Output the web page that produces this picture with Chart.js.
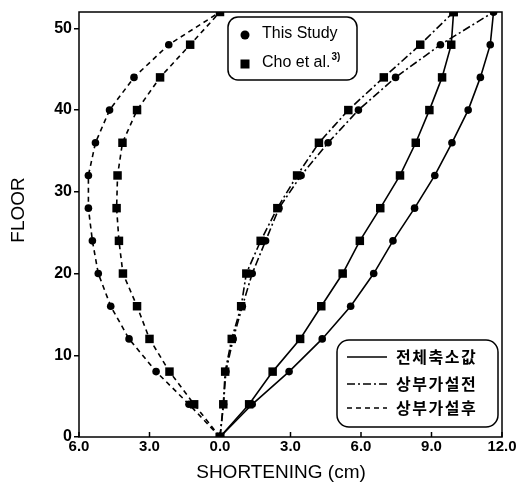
<!DOCTYPE html>
<html>
<head>
<meta charset="utf-8">
<script src="https://cdn.jsdelivr.net/npm/chart.js@4"></script>
<style>
html, body { margin: 0; padding: 0; background: #fff; }
</style>
</head>
<body>
<canvas id="chart" width="519" height="493"></canvas>
<script>
// floors where values are plotted
const floors = [0, 4, 8, 12, 16, 20, 24, 28, 32, 36, 40, 44, 48, 52];

// 전체축소값 (total)
const totalStudy = [0, 1.37, 2.94, 4.35, 5.56, 6.54, 7.36, 8.28, 9.14, 9.87, 10.56, 11.08, 11.5, 11.64];
const totalCho   = [0, 1.24, 2.24, 3.41, 4.31, 5.22, 5.95, 6.82, 7.66, 8.33, 8.91, 9.45, 9.84, 9.94];
// 상부가설전 (before)
const beforeStudy = [0, 0.15, 0.25, 0.56, 0.95, 1.37, 1.94, 2.51, 3.45, 4.6, 5.89, 7.47, 9.38, 11.64];
const beforeCho   = [0, 0.14, 0.22, 0.5, 0.9, 1.12, 1.73, 2.44, 3.28, 4.21, 5.46, 6.97, 8.52, 9.94];
// 상부가설후 (after)
const afterStudy = [0, -1.32, -2.72, -3.87, -4.65, -5.18, -5.43, -5.6, -5.6, -5.3, -4.7, -3.66, -2.18, 0];
const afterCho   = [0, -1.1, -2.15, -3.0, -3.53, -4.13, -4.3, -4.4, -4.36, -4.15, -3.53, -2.55, -1.27, 0];

const xTicks = [-6, -3, 0, 3, 6, 9, 12];
const yTicks = [0, 10, 20, 30, 40, 50];

const FONT = '"Liberation Sans", Arial, sans-serif';
const SOLID = [];
const DASHDOT = [8, 3, 2, 3];
const DASHED = [5, 4];

function pts(xs) {
    return xs.map((x, i) => ({ x: x, y: floors[i] }));
}

function series(xs, dash, shape) {
    return {
        data: pts(xs),
        borderColor: '#000',
        backgroundColor: '#000',
        borderWidth: 1.6,
        borderDash: dash,
        pointStyle: shape,
        pointRadius: shape === 'rect' ? 6 : 3.8,
        pointBorderWidth: 0,
        tension: 0
    };
}

// box, inward x ticks, legends, axis titles
const decor = {
    id: 'decor',
    afterDraw(chart) {
        const ctx = chart.ctx;
        const a = chart.chartArea;
        const xs = chart.scales.x;
        ctx.save();
        ctx.strokeStyle = '#000';
        ctx.lineWidth = 1.5;
        ctx.setLineDash([]);
        ctx.strokeRect(a.left, a.top, a.right - a.left, a.bottom - a.top);

        // ticks pointing up into the plot
        xTicks.forEach(v => {
            const px = xs.getPixelForValue(v);
            ctx.beginPath();
            ctx.moveTo(px, a.bottom);
            ctx.lineTo(px, a.bottom - 5);
            ctx.stroke();
        });

        // marker legend
        roundRect(ctx, 228, 17, 129, 63, 10);
        ctx.fillStyle = '#000';
        ctx.beginPath();
        ctx.arc(245, 35, 4.5, 0, Math.PI * 2);
        ctx.fill();
        ctx.fillRect(240.5, 59.5, 9, 9);
        ctx.font = '16px ' + FONT;
        ctx.textBaseline = 'middle';
        ctx.textAlign = 'left';
        ctx.fillText('This Study', 262, 34);
        ctx.fillText('Cho et al.', 262, 63);
        const w = ctx.measureText('Cho et al.').width;
        ctx.font = 'bold 10px ' + FONT;
        ctx.fillText('3)', 262 + w + 1, 57);

        // line legend
        roundRect(ctx, 337, 340, 161, 87, 12);
        ctx.fillStyle = '#000';
        const rows = [
            ['전체축소값', SOLID, 357],
            ['상부가설전', DASHDOT, 384],
            ['상부가설후', DASHED, 408]
        ];
        ctx.font = 'bold 16px "Noto Sans CJK KR", sans-serif';
        if ('letterSpacing' in ctx) ctx.letterSpacing = '1.5px';
        rows.forEach(r => {
            ctx.setLineDash(r[1]);
            ctx.beginPath();
            ctx.moveTo(347, r[2]);
            ctx.lineTo(387, r[2]);
            ctx.stroke();
            ctx.fillText(r[0], 396, r[2]);
        });
        if ('letterSpacing' in ctx) ctx.letterSpacing = '0px';
        ctx.setLineDash([]);

        // axis titles
        ctx.font = '19px ' + FONT;
        ctx.textAlign = 'center';
        ctx.fillText('SHORTENING (cm)', 281, 473);
        ctx.translate(19, 210);
        ctx.rotate(-Math.PI / 2);
        ctx.fillText('FLOOR', 0, 0);
        ctx.restore();
    }
};

function roundRect(ctx, x, y, w, h, r) {
    ctx.beginPath();
    ctx.moveTo(x + r, y);
    ctx.arcTo(x + w, y, x + w, y + h, r);
    ctx.arcTo(x + w, y + h, x, y + h, r);
    ctx.arcTo(x, y + h, x, y, r);
    ctx.arcTo(x, y, x + w, y, r);
    ctx.closePath();
    ctx.fillStyle = '#fff';
    ctx.fill();
    ctx.stroke();
}

new Chart(document.getElementById('chart'), {
    type: 'line',
    data: {
        datasets: [
            series(totalStudy, SOLID, 'circle'),
            series(totalCho, SOLID, 'rect'),
            series(beforeStudy, DASHDOT, 'circle'),
            series(beforeCho, DASHDOT, 'rect'),
            series(afterStudy, DASHED, 'circle'),
            series(afterCho, DASHED, 'rect')
        ]
    },
    options: {
        responsive: false,
        animation: false,
        devicePixelRatio: 1,
        layout: { padding: { top: 12, right: 17, left: 0, bottom: 0 } },
        plugins: {
            legend: { display: false },
            tooltip: { enabled: false }
        },
        scales: {
            x: {
                type: 'linear',
                min: -6,
                max: 12,
                afterBuildTicks: s => { s.ticks = xTicks.map(v => ({ value: v })); },
                afterFit: s => { s.height = 56; },
                grid: { display: false },
                border: { display: false },
                ticks: {
                    color: '#000',
                    padding: -7,
                    maxRotation: 0,
                    font: { family: FONT, size: 15, weight: 'bold' },
                    callback: v => Math.abs(v).toFixed(1)
                }
            },
            y: {
                type: 'linear',
                min: 0,
                max: 52,
                afterBuildTicks: s => { s.ticks = yTicks.map(v => ({ value: v })); },
                afterFit: s => { s.width = 79; },
                grid: { drawOnChartArea: false, drawTicks: true, tickLength: 5, color: '#000', lineWidth: 1.5 },
                border: { display: false },
                ticks: {
                    color: '#000',
                    padding: 2,
                    font: { family: FONT, size: 16, weight: 'bold' }
                }
            }
        }
    },
    plugins: [decor]
});
</script>
</body>
</html>
